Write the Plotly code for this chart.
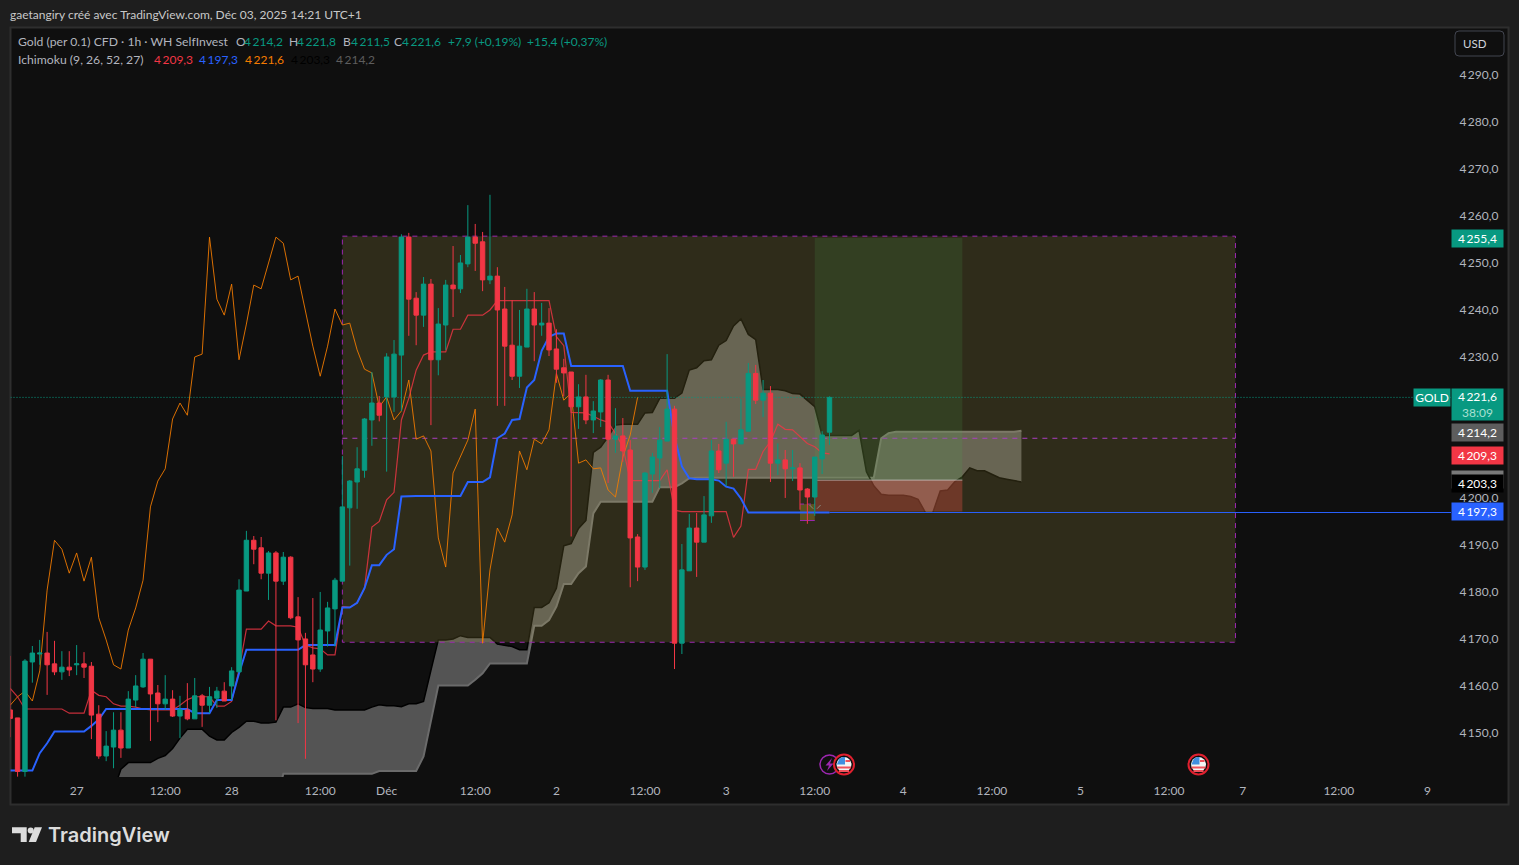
import plotly.graph_objects as go

# bar index 0 is the "27" tick, one step per hourly candle
bar_index = list(range(-9, 103))

opens = [4154.8, 4153.1, 4141.7, 4165.0, 4166.7, 4166.9, 4164.6, 4162.9, 4163.9, 4164.4,
         4164.6, 4164.1, 4153.9, 4145.0, 4146.9, 4150.5, 4146.7, 4156.9, 4159.7, 4165.6,
         4158.4, 4156.1, 4157.1, 4153.5, 4154.8, 4152.9, 4157.8, 4155.8, 4157.3, 4158.8,
         4159.9, 4162.9, 4180.1, 4190.9, 4189.3, 4183.9, 4188.2, 4182.2, 4187.3, 4174.6,
         4169.9, 4166.5, 4163.5, 4171.6, 4176.3, 4182.2, 4197.8, 4203.3, 4205.8, 4216.5,
         4220.1, 4221.4, 4221.4, 4230.3, 4255.4, 4242.4, 4238.8, 4245.4, 4229.3, 4236.7,
         4245.2, 4244.4, 4249.7, 4255.4, 4254.4, 4246.3, 4247.1, 4240.1, 4232.4, 4225.8,
         4232.0, 4240.1, 4236.7, 4237.1, 4231.6, 4227.6, 4226.7, 4219.3, 4221.4, 4216.5,
         4218.2, 4225.0, 4212.4, 4213.1, 4210.1, 4191.6, 4185.2, 4205.0, 4208.4, 4212.0,
         4218.8, 4169.0, 4184.4, 4193.5, 4190.5, 4196.1, 4209.9, 4207.3, 4212.4, 4211.4,
         4214.1, 4226.4, 4220.7, 4222.2, 4207.3, 4208.0, 4206.1, 4206.3, 4201.8, 4200.1,
         4208.2, 4213.9]
highs = [4166.3, 4153.1, 4165.6, 4168.4, 4169.7, 4171.4, 4169.5, 4167.3, 4167.3, 4168.6,
         4167.1, 4165.0, 4155.8, 4150.3, 4154.3, 4154.3, 4158.8, 4162.2, 4166.9, 4165.6,
         4160.1, 4162.2, 4159.0, 4157.8, 4160.5, 4161.6, 4158.2, 4159.7, 4159.7, 4160.7,
         4163.9, 4182.6, 4192.9, 4191.8, 4191.6, 4188.6, 4188.6, 4188.4, 4187.5, 4178.8,
         4171.2, 4178.6, 4179.9, 4177.8, 4182.9, 4208.8, 4203.7, 4210.7, 4216.9, 4226.7,
         4221.6, 4230.7, 4233.5, 4256.0, 4256.3, 4243.7, 4246.9, 4246.5, 4240.3, 4246.3,
         4253.5, 4251.6, 4262.2, 4258.2, 4256.5, 4264.4, 4249.0, 4244.8, 4242.0, 4239.9,
         4244.4, 4243.7, 4241.4, 4240.3, 4235.8, 4229.5, 4226.7, 4224.1, 4226.1, 4220.5,
         4225.2, 4226.1, 4219.0, 4216.9, 4212.2, 4192.2, 4205.4, 4209.5, 4215.0, 4230.5,
         4219.5, 4190.1, 4196.5, 4196.7, 4200.3, 4212.2, 4211.4, 4216.1, 4212.4, 4221.0,
         4228.6, 4228.2, 4225.0, 4223.7, 4211.5, 4210.1, 4210.1, 4207.3, 4202.0, 4208.6,
         4214.1, 4221.5]
lows = [4149.0, 4140.6, 4140.6, 4160.6, 4164.4, 4158.0, 4162.2, 4161.2, 4162.0, 4162.2,
        4161.6, 4148.6, 4144.4, 4143.9, 4142.4, 4144.6, 4146.7, 4155.4, 4159.5, 4148.2,
        4152.2, 4154.8, 4153.3, 4148.8, 4152.6, 4152.9, 4151.2, 4154.1, 4155.2, 4156.7,
        4156.9, 4162.9, 4180.1, 4185.8, 4182.6, 4178.2, 4152.6, 4181.4, 4174.1, 4152.0,
        4144.4, 4160.7, 4162.9, 4168.3, 4168.3, 4182.2, 4185.5, 4197.6, 4204.2, 4211.0,
        4216.2, 4205.5, 4218.2, 4218.4, 4234.4, 4232.4, 4236.3, 4215.4, 4226.0, 4231.4,
        4238.4, 4243.5, 4249.0, 4248.2, 4243.9, 4245.4, 4219.5, 4219.5, 4225.0, 4223.3,
        4232.0, 4229.0, 4234.4, 4230.1, 4224.4, 4221.5, 4191.7, 4214.6, 4215.6, 4213.7,
        4215.0, 4203.1, 4209.5, 4207.6, 4180.9, 4182.2, 4184.6, 4201.0, 4202.0, 4212.0,
        4163.5, 4166.7, 4184.4, 4183.1, 4190.5, 4194.6, 4205.2, 4202.4, 4204.4, 4211.4,
        4214.1, 4219.9, 4217.1, 4203.3, 4204.8, 4199.9, 4203.5, 4197.4, 4194.4, 4196.1,
        4205.0, 4211.2]
closes = [4153.0, 4141.7, 4165.2, 4166.9, 4166.9, 4164.4, 4162.9, 4163.9, 4163.3, 4164.6,
          4163.9, 4153.7, 4145.0, 4147.1, 4150.5, 4146.7, 4157.1, 4159.9, 4165.6, 4158.2,
          4156.1, 4157.1, 4153.5, 4154.8, 4152.9, 4157.8, 4155.8, 4157.6, 4158.8, 4156.7,
          4163.1, 4180.3, 4190.9, 4189.0, 4183.9, 4188.2, 4182.2, 4187.3, 4174.4, 4169.7,
          4164.4, 4163.5, 4171.8, 4176.5, 4182.4, 4198.0, 4203.5, 4206.1, 4216.7, 4220.1,
          4217.5, 4229.9, 4230.5, 4255.4, 4242.2, 4238.8, 4245.4, 4229.3, 4236.9, 4245.2,
          4244.4, 4249.9, 4255.4, 4254.1, 4246.3, 4247.1, 4239.9, 4232.2, 4225.8, 4232.2,
          4240.1, 4236.7, 4237.1, 4231.4, 4227.3, 4226.5, 4219.3, 4221.4, 4216.5, 4218.4,
          4225.0, 4212.4, 4213.1, 4209.9, 4191.4, 4185.2, 4205.2, 4208.6, 4212.2, 4218.8,
          4169.0, 4184.6, 4193.5, 4190.5, 4196.3, 4209.9, 4205.9, 4212.4, 4211.4, 4214.4,
          4226.4, 4220.7, 4222.2, 4207.3, 4208.0, 4206.1, 4206.3, 4201.6, 4200.1, 4208.6,
          4213.3, 4221.3]

tenkan = [4159.4, 4157.6, 4155.0, 4155.0, 4155.0, 4155.0, 4155.0, 4155.0, 4154.1, 4154.1,
          4154.1, 4159.0, 4157.9, 4157.6, 4156.1, 4155.6, 4155.6, 4155.4, 4155.0, 4154.8,
          4154.8, 4154.8, 4154.8, 4155.8, 4157.0, 4157.6, 4157.6, 4157.6, 4155.6, 4155.6,
          4156.6, 4163.3, 4172.0, 4172.0, 4172.0, 4173.7, 4172.7, 4172.7, 4172.7, 4172.4,
          4168.6, 4168.0, 4167.8, 4166.5, 4166.5, 4176.8, 4176.6, 4177.6, 4180.7, 4193.7,
          4194.9, 4199.5, 4201.1, 4216.5, 4221.1, 4227.1, 4230.3, 4231.0, 4231.0, 4231.0,
          4235.8, 4235.8, 4238.8, 4238.8, 4238.8, 4239.9, 4241.9, 4241.9, 4241.9, 4241.9,
          4241.9, 4241.9, 4241.9, 4241.9, 4234.2, 4232.3, 4218.1, 4218.0, 4218.0, 4217.3,
          4216.5, 4216.0, 4213.6, 4210.8, 4203.6, 4203.6, 4203.6, 4203.6, 4203.6, 4205.9,
          4197.3, 4197.0, 4197.0, 4197.0, 4197.0, 4197.0, 4197.0, 4197.0, 4191.5, 4193.9,
          4206.0, 4206.0, 4209.8, 4211.9, 4215.6, 4214.5, 4214.4, 4212.9, 4211.5, 4210.8,
          4209.5, 4209.3]
kijun = [4141.9, 4141.9, 4141.9, 4141.9, 4145.6, 4147.7, 4150.2, 4150.2, 4150.2, 4150.2,
         4150.2, 4151.4, 4152.8, 4155.0, 4155.0, 4155.0, 4155.0, 4155.0, 4155.0, 4155.0,
         4155.0, 4155.0, 4155.0, 4155.0, 4155.0, 4154.1, 4154.1, 4154.1, 4156.9, 4156.9,
         4156.9, 4162.6, 4167.6, 4167.6, 4167.6, 4167.6, 4167.6, 4167.6, 4167.6, 4167.6,
         4168.6, 4168.6, 4168.6, 4168.6, 4168.6, 4176.6, 4176.6, 4177.6, 4180.7, 4185.6,
         4185.6, 4187.8, 4189.0, 4200.2, 4200.3, 4200.3, 4200.3, 4200.3, 4200.3, 4200.3,
         4200.3, 4200.3, 4203.3, 4203.3, 4203.3, 4204.3, 4212.6, 4213.6, 4216.5, 4216.7,
         4223.4, 4225.0, 4231.2, 4234.2, 4234.9, 4234.9, 4228.0, 4228.0, 4228.0, 4228.0,
         4228.0, 4228.0, 4228.0, 4228.0, 4222.7, 4222.7, 4222.7, 4222.7, 4222.7, 4222.7,
         4212.9, 4206.6, 4204.1, 4203.9, 4203.9, 4203.9, 4203.6, 4202.3, 4201.9, 4199.8,
         4196.8, 4196.8, 4196.8, 4196.8, 4196.8, 4196.8, 4196.8, 4196.8, 4196.8, 4196.8,
         4196.8, 4196.8]
# lagging span is the close drawn 26 bars back
chikou = closes[26:]
chikou_index = bar_index[:len(chikou)]

cloud_index = list(range(5, 129))
span_a = [4135.0, 4135.0, 4135.0, 4135.0, 4135.0, 4135.0, 4135.0, 4135.0, 4135.0, 4135.0,
          4135.0, 4135.0, 4135.0, 4135.0, 4135.0, 4135.0, 4135.0, 4135.0, 4135.0, 4135.0,
          4135.0, 4135.0, 4135.0, 4141.2, 4141.2, 4141.2, 4141.2, 4141.2, 4141.2, 4141.2,
          4141.2, 4141.2, 4141.2, 4141.2, 4141.2, 4141.2, 4141.8, 4141.8, 4141.8, 4141.8,
          4141.8, 4141.8, 4144.9, 4152.3, 4160.0, 4160.0, 4160.0, 4160.0, 4160.0, 4161.2,
          4162.6, 4164.7, 4164.7, 4164.7, 4164.7, 4164.7, 4164.7, 4172.7, 4172.7, 4173.9,
          4176.8, 4181.6, 4181.6, 4183.9, 4185.3, 4196.6, 4199.1, 4199.1, 4199.1, 4199.1,
          4199.1, 4199.1, 4199.1, 4199.1, 4202.2, 4202.2, 4202.2, 4203.0, 4204.1, 4204.2,
          4204.2, 4204.2, 4204.2, 4204.2, 4204.2, 4204.2, 4204.2, 4204.2, 4204.2, 4204.2,
          4204.2, 4204.2, 4204.2, 4204.2, 4204.2, 4204.2, 4204.2, 4204.2, 4204.2, 4204.2,
          4204.2, 4204.2, 4204.2, 4204.2, 4212.6, 4213.7, 4214.0, 4214.0, 4214.0, 4214.0,
          4214.0, 4214.0, 4214.0, 4214.0, 4214.0, 4214.0, 4214.0, 4214.0, 4214.0, 4214.0,
          4214.0, 4214.0, 4214.0, 4214.2]
span_b = [4137.6, 4142.2, 4143.6, 4143.6, 4143.6, 4143.6, 4144.5, 4145.1, 4146.6, 4148.8,
          4150.7, 4150.7, 4150.7, 4149.2, 4148.4, 4148.4, 4150.0, 4151.1, 4152.4, 4152.4,
          4152.0, 4152.0, 4152.2, 4155.4, 4155.4, 4156.1, 4155.3, 4155.1, 4155.1, 4155.1,
          4154.8, 4154.8, 4154.8, 4154.8, 4154.8, 4155.4, 4155.9, 4155.7, 4155.7, 4155.5,
          4156.1, 4156.1, 4156.6, 4163.2, 4169.7, 4169.7, 4169.9, 4170.6, 4170.2, 4170.2,
          4170.2, 4170.2, 4168.8, 4168.5, 4168.3, 4167.6, 4167.6, 4176.6, 4176.6, 4177.6,
          4180.7, 4189.7, 4190.2, 4193.4, 4195.1, 4209.6, 4210.7, 4212.9, 4215.4, 4215.6,
          4215.6, 4215.6, 4218.0, 4218.1, 4221.1, 4221.1, 4221.1, 4222.2, 4227.1, 4227.6,
          4229.1, 4229.3, 4232.4, 4233.4, 4236.5, 4238.0, 4234.7, 4233.6, 4223.0, 4223.0,
          4223.0, 4222.7, 4222.1, 4222.0, 4220.7, 4219.3, 4213.2, 4213.2, 4213.2, 4213.2,
          4213.2, 4214.3, 4205.5, 4202.5, 4200.7, 4200.5, 4200.5, 4200.5, 4200.2, 4199.6,
          4196.8, 4196.8, 4201.4, 4201.6, 4203.4, 4204.4, 4206.3, 4205.7, 4205.7, 4204.9,
          4204.2, 4203.9, 4203.6, 4203.3]

# drawing tools
box_start, box_end = 36, 157
box_top, box_mid, box_bottom = 4255.6, 4212.6, 4169.2
pos_start, pos_end = 100, 120
pos_top, pos_entry, pos_stop = 4255.2, 4203.7, 4197.0
mini_start, mini_end = 98, 100
mini_top, mini_bottom = 4198.6, 4195.1

x_ticks = [0, 12, 21, 33, 42, 54, 65, 77, 88, 100, 112, 124, 136, 148, 158, 171, 183]
x_labels = ["27", "12:00", "28", "12:00", "Déc", "12:00", "2", "12:00", "3", "12:00",
            "4", "12:00", "5", "12:00", "7", "12:00", "9"]
y_ticks = [4150, 4160, 4170, 4180, 4190, 4200, 4210, 4220, 4230, 4240, 4250, 4260, 4270, 4280, 4290]
y_labels = ["4\u2009%d0,0" % (t // 10 - 400) for t in y_ticks]

tag_prices = [4214.2, 4209.3, 4204.0, 4203.3, 4197.3, 4255.4]
tag_labels = ["4\u2009214,2", "4\u2009209,3", "", "4\u2009203,3", "4\u2009197,3", "4\u2009255,4"]
tag_colors = ["#5d5d5d", "#f23645", "#787878", "#000000", "#2962ff", "#089981"]

UP = "#089981"
DOWN = "#f23645"
TEXT = "#b2b5be"
FONT = "Lato"
x_min, x_max = -8.96, 186.2
y_min, y_max = 4140.53, 4299.89


def px(x):
    return x / 1519


def py(y):
    return 1 - y / 865


fig = go.Figure()


def area(x, y, fill, line=None, dash=None, width=1):
    fig.add_trace(go.Scatter(x=x, y=y, mode="lines", fill="toself", fillcolor=fill,
                             line=dict(color=line or "rgba(0,0,0,0)", width=width, dash=dash),
                             hoverinfo="skip"))


def line(x, y, color, width=1, dash=None):
    fig.add_trace(go.Scatter(x=x, y=y, mode="lines", line=dict(color=color, width=width, dash=dash),
                             hoverinfo="skip"))


# cloud
fig.add_trace(go.Scatter(x=cloud_index, y=span_a, mode="lines", line=dict(color="#6b6b6b", width=2),
                         hoverinfo="skip"))
fig.add_trace(go.Scatter(x=cloud_index, y=span_b, mode="lines", line=dict(color="#000000", width=1.5),
                         fill="tonexty", fillcolor="rgba(120,120,120,0.66)", hoverinfo="skip"))

# tan range box, then position tool on it
area([box_start, box_end, box_end, box_start, box_start], [box_top, box_top, box_bottom, box_bottom, box_top],
     "rgba(205,190,85,0.17)", "#9c27b0", "5px,5px")
line([box_start, box_end], [box_mid, box_mid], "#ab3fc0", 1, "5px,5px")
area([pos_start, pos_end, pos_end, pos_start, pos_start], [pos_top, pos_top, pos_entry, pos_entry, pos_top],
     "rgba(76,175,80,0.15)")
area([pos_start, pos_end, pos_end, pos_start, pos_start], [pos_entry, pos_entry, pos_stop, pos_stop, pos_entry],
     "rgba(225,80,70,0.35)")
line([pos_start, pos_end], [pos_entry, pos_entry], "rgba(205,205,205,0.7)")
area([mini_start, mini_end, mini_end, mini_start, mini_start], [mini_top, mini_top, mini_bottom, mini_bottom, mini_top],
     "rgba(200,170,40,0.3)")
line([mini_start, mini_end], [mini_top, mini_top], "#9c27b0", 1, "4px,3px")
line([mini_start, mini_end], [mini_bottom, mini_bottom], "#9c27b0")
line([99.3, 99.8, None, 100.3, 100.8], [4198.4, 4197.6, None, 4197.6, 4198.4], "#8a8a80")

# last price and kijun value lines
line([x_min, x_max], [closes[-1], closes[-1]], UP, 1, "1px,2px")
line([bar_index[-1], x_max], [kijun[-1], kijun[-1]], "#2962ff")

line(chikou_index, chikou, "rgba(245,124,0,0.88)", 1)
line(bar_index, tenkan, "rgba(242,54,69,0.8)", 1.2)
line(bar_index, kijun, "#2962ff", 2)

# candles sit on an overlay so they stay above the filled areas
fig.add_trace(go.Candlestick(x=bar_index, open=opens, high=highs, low=lows, close=closes,
                             xaxis="x2", yaxis="y2", whiskerwidth=0, hoverinfo="skip",
                             increasing=dict(line=dict(color=UP, width=1), fillcolor=UP),
                             decreasing=dict(line=dict(color=DOWN, width=1), fillcolor=DOWN)))


def round_rect(x0, y0, x1, y1, r):
    return ("M%f,%f L%f,%f Q%f,%f %f,%f L%f,%f Q%f,%f %f,%f L%f,%f Q%f,%f %f,%f L%f,%f Q%f,%f %f,%f Z" % (
        px(x0 + r), py(y0), px(x1 - r), py(y0), px(x1), py(y0), px(x1), py(y0 + r),
        px(x1), py(y1 - r), px(x1), py(y1), px(x1 - r), py(y1),
        px(x0 + r), py(y1), px(x0), py(y1), px(x0), py(y1 - r),
        px(x0), py(y0 + r), px(x0), py(y0), px(x0 + r), py(y0)))


shapes = [
    dict(type="rect", xref="paper", yref="paper", x0=px(10.5), x1=px(1508.5), y0=py(804.5), y1=py(27.5),
         fillcolor="#0f0f0f", line=dict(color="#2e2e2e", width=2), layer="below"),
    # USD button
    dict(type="path", xref="paper", yref="paper", path=round_rect(1455, 31, 1504, 56, 4),
         fillcolor="#0f0f0f", line=dict(color="#434651", width=1)),
    # TradingView logo
    dict(type="path", xref="paper", yref="paper", fillcolor="#dcdcdc", line=dict(width=0),
         path="M%f,%f L%f,%f L%f,%f L%f,%f L%f,%f L%f,%f Z" % (
             px(12), py(827.3), px(26.7), py(827.3), px(26.7), py(842), px(20.7), py(842), px(20.7), py(833.3), px(12), py(833.3))),
    dict(type="circle", xref="paper", yref="paper", x0=px(27.7), x1=px(33.7), y0=py(833.4), y1=py(827.4),
         fillcolor="#dcdcdc", line=dict(width=0)),
    dict(type="path", xref="paper", yref="paper", fillcolor="#dcdcdc", line=dict(width=0),
         path="M%f,%f L%f,%f L%f,%f L%f,%f Z" % (
             px(34.7), py(827.3), px(42), py(827.3), px(36), py(842), px(28.7), py(842))),
    # event lightning
    dict(type="circle", xref="paper", yref="paper", x0=px(820), x1=px(839), y0=py(774), y1=py(755),
         fillcolor="#0f0f0f", line=dict(color="#9c27b0", width=1.5)),
    dict(type="path", xref="paper", yref="paper", fillcolor="#9c27b0", line=dict(width=0),
         path="M%f,%f L%f,%f L%f,%f L%f,%f L%f,%f L%f,%f Z" % (
             px(832), py(758), px(825.5), py(765.5), px(829), py(765.5), px(827), py(771), px(833.5), py(763.5), px(830), py(763.5))),
]


def flag(cx, cy):
    shapes.append(dict(type="circle", xref="paper", yref="paper", x0=px(cx - 10), x1=px(cx + 10), y0=py(cy + 10), y1=py(cy - 10),
                       fillcolor="#0f0f0f", line=dict(color="#e0202f", width=2)))
    shapes.append(dict(type="circle", xref="paper", yref="paper", x0=px(cx - 7.5), x1=px(cx + 7.5), y0=py(cy + 7.5), y1=py(cy - 7.5),
                       fillcolor="#f4f4f4", line=dict(width=0)))
    shapes.append(dict(type="path", xref="paper", yref="paper", fillcolor="#3f8fe0", line=dict(width=0),
                       path="M%f,%f L%f,%f L%f,%f L%f,%f L%f,%f Z" % (
                           px(cx - 7.2), py(cy), px(cx - 4.5), py(cy - 6), px(cx - 1), py(cy - 7.4), px(cx + 1), py(cy - 7.4), px(cx + 1), py(cy))))
    for y0, half in [(cy - 4.5, 6), (cy + 2, 7), (cy + 5.5, 5)]:
        shapes.append(dict(type="rect", xref="paper", yref="paper", x0=px(cx + (1.5 if y0 < cy else -half)), x1=px(cx + half),
                           y0=py(y0 + 2), y1=py(y0), fillcolor="#f0525c", line=dict(width=0)))


flag(844, 764.5)
flag(1198.5, 764.5)

annotations = []


def txt(x, y, text, color=TEXT, size=12, anchor="left", **kw):
    annotations.append(dict(xref="paper", yref="paper", x=px(x), y=py(y), text=text, showarrow=False,
                            xanchor=anchor, yanchor="middle", borderpad=0,
                            font=dict(family=kw.pop("family", FONT), size=size, color=color, **kw)))


txt(9, 14.5, "gaetangiry créé avec TradingView.com, Déc 03, 2025 14:21 UTC+1", "#c8c8c8", 12)
txt(17, 42, "Gold (per 0.1) CFD · 1h · WH SelfInvest", TEXT, 12.2)
for x, label, value in [(235, "O", "4\u2009214,2"), (288, "H", "4\u2009221,8"), (342, "B", "4\u2009211,5"), (393, "C", "4\u2009221,6")]:
    txt(x, 42, label, TEXT, 12)
    txt(x + 8, 42, value, UP, 12)
txt(447, 42, "+7,9 (+0,19%)", UP, 12)
txt(526, 42, "+15,4 (+0,37%)", UP, 12)
txt(17, 59, "Ichimoku (9, 26, 52, 27)", TEXT, 12.2)
txt(153, 59, "4\u2009209,3", DOWN, 12)
txt(198, 59, "4\u2009197,3", "#2962ff", 12)
txt(244, 59, "4\u2009221,6", "#f57c00", 12)
txt(290, 59, "4\u2009203,3", "#000000", 12)
txt(335, 59, "4\u2009214,2", "#5d5d5d", 12)
txt(1475, 43.5, "USD", "#d1d4dc", 11.5, "center")
txt(47, 835, "TradingView", "#dcdcdc", 20, family="Inter", weight=600)

# price tags on the axis
for price, label, color in zip(tag_prices, tag_labels, tag_colors):
    annotations.append(dict(xref="paper", yref="y", x=px(1451), y=price, yshift=-1.3, text=label, showarrow=False,
                            xanchor="left", yanchor="middle", width=51, height=17, bgcolor=color, borderpad=0,
                            font=dict(family=FONT, size=12, color="#ffffff")))
annotations.append(dict(xref="paper", yref="y", x=px(1451), y=closes[-1], yshift=-7.1, showarrow=False,
                        text="4\u2009221,6<br><span style='color:#a8e0d2'>38:09</span>",
                        xanchor="left", yanchor="middle", width=51, height=31, bgcolor=UP, borderpad=0,
                        font=dict(family=FONT, size=12, color="#ffffff")))
annotations.append(dict(xref="paper", yref="y", x=px(1413), y=closes[-1], text="GOLD", showarrow=False,
                        xanchor="left", yanchor="middle", width=36, height=17, bgcolor=UP, borderpad=0,
                        font=dict(family=FONT, size=12, color="#ffffff")))

fig.update_layout(
    width=1519, height=865, autosize=False,
    margin=dict(l=0, r=0, t=0, b=0),
    paper_bgcolor="#1e1e1e", plot_bgcolor="rgba(0,0,0,0)",
    showlegend=False, hovermode=False, dragmode=False,
    boxgap=0.15,
    shapes=shapes, annotations=annotations,
    xaxis=dict(domain=[px(10.5), px(1451)], range=[x_min, x_max], tickmode="array", tickvals=x_ticks, ticktext=x_labels,
               showgrid=False, zeroline=False, showline=False, ticks="outside", ticklen=3, tickcolor="rgba(0,0,0,0)",
               tickfont=dict(family=FONT, size=12, color=TEXT), anchor="y"),
    yaxis=dict(domain=[py(777), py(28)], range=[y_min, y_max], side="right", tickmode="array", tickvals=y_ticks, ticktext=y_labels,
               showgrid=False, zeroline=False, showline=False, ticks="outside", ticklen=5, tickcolor="rgba(0,0,0,0)",
               tickfont=dict(family=FONT, size=12, color=TEXT), anchor="x"),
    xaxis2=dict(domain=[px(10.5), px(1451)], overlaying="x", matches="x", visible=False, anchor="y2",
                rangeslider=dict(visible=False)),
    yaxis2=dict(domain=[py(777), py(28)], overlaying="y", matches="y", visible=False, anchor="x2"),
)

fig.write_html("out.html", config={"displayModeBar": False}, post_script="document.body.style.margin='0';")
